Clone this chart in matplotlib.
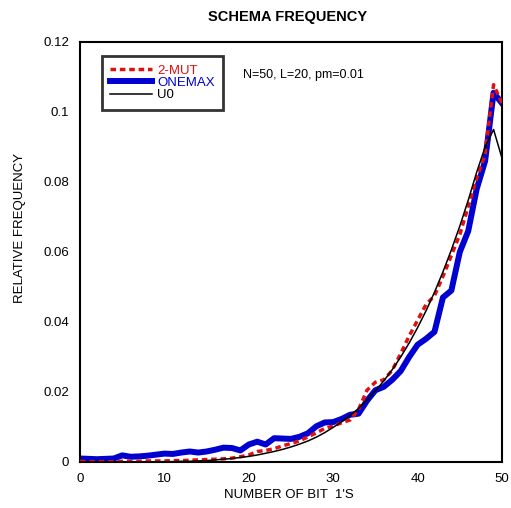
import matplotlib
matplotlib.use("Agg")
import matplotlib.pyplot as plt
import numpy as np

plt.rcParams['font.family'] = ['Liberation Sans', 'DejaVu Sans']

bits = list(range(51))
onemax = [0.0010, 0.0009, 0.0008, 0.0009, 0.0010, 0.0019, 0.0015, 0.0016, 0.0018, 0.0021,
          0.0024, 0.0023, 0.0027, 0.0030, 0.0027, 0.0030, 0.0035, 0.0041, 0.0040, 0.0033,
          0.0050, 0.0058, 0.0050, 0.0068, 0.0067, 0.0066, 0.0072, 0.0082, 0.0102, 0.0113,
          0.0114, 0.0123, 0.0135, 0.0138, 0.0175, 0.0205, 0.0215, 0.0235, 0.0260, 0.0300,
          0.0335, 0.0352, 0.0372, 0.0470, 0.0490, 0.0600, 0.0660, 0.0780, 0.0860, 0.1055,
          0.1025]
two_mut = [0.0002, 0.0001, 0.0001, 0.0001, 0.0001, 0.0002, 0.0002, 0.0002, 0.0003, 0.0003,
           0.0003, 0.0004, 0.0004, 0.0005, 0.0006, 0.0007, 0.0008, 0.0009, 0.0011, 0.0015,
           0.0020, 0.0030, 0.0033, 0.0038, 0.0046, 0.0053, 0.0060, 0.0072, 0.0083, 0.0096,
           0.0103, 0.0112, 0.0120, 0.0150, 0.0205, 0.0228, 0.0235, 0.0262, 0.0310, 0.0360,
           0.0405, 0.0450, 0.0475, 0.0530, 0.0590, 0.0650, 0.0730, 0.0810, 0.0880, 0.1078,
           0.1025]
u0 = [0.0000, 0.0000, 0.0000, 0.0000, 0.0000, 0.0000, 0.0000, 0.0000, 0.0000, 0.0001,
      0.0001, 0.0001, 0.0002, 0.0002, 0.0003, 0.0004, 0.0006, 0.0008, 0.0010, 0.0013,
      0.0016, 0.0020, 0.0025, 0.0030, 0.0036, 0.0043, 0.0051, 0.0060, 0.0071, 0.0084,
      0.0099, 0.0115, 0.0133, 0.0153, 0.0177, 0.0203, 0.0232, 0.0264, 0.0300, 0.0340,
      0.0384, 0.0432, 0.0485, 0.0543, 0.0606, 0.0674, 0.0748, 0.0828, 0.0900, 0.0950,
      0.0868]

xticks = [0, 10, 20, 30, 40, 50]
yticks = [0, 0.02, 0.04, 0.06, 0.08, 0.1, 0.12]
ytick_labels = ["0", "0.02", "0.04", "0.06", "0.08", "0.1", "0.12"]

W, H = 511, 508
fig = plt.figure(figsize=(W / 100, H / 100), dpi=100)
ax = fig.add_axes([80 / W, (H - 462) / H, 422 / W, 420 / H])

RED = '#e01010'
BLUE = '#0000d0'
l1, = ax.plot(bits, two_mut, color=RED, lw=2.5, ls=(0, (1.6, 1.1)), label='2-MUT', zorder=3)
l2, = ax.plot(bits, onemax, color=BLUE, lw=4.3, label='ONEMAX', zorder=2)
l3, = ax.plot(bits, u0, color='black', lw=1.1, label='U0', zorder=4)

ax.set_xlim(0, 50)
ax.set_ylim(0, 0.12)
ax.set_xticks(xticks)
ax.set_xticklabels([str(t) for t in xticks])
ax.set_yticks(yticks)
ax.set_yticklabels(ytick_labels)
ax.tick_params(length=0, labelsize=9.5, pad=8)
for s in ax.spines.values():
    s.set_linewidth(1.5)

fig.text(289 / W, 1 - 495 / H, "NUMBER OF BIT  1'S", ha='center', va='center', fontsize=9.5)
fig.text(20 / W, 1 - 228 / H, "RELATIVE FREQUENCY", ha='center', va='center', fontsize=9.5,
         rotation=90)
fig.text(288 / W, 1 - 17 / H, "SCHEMA FREQUENCY", ha='center', va='center', fontsize=10.5,
         fontweight='bold')

leg = ax.legend(handles=[l1, l2, l3], loc='upper left',
                bbox_to_anchor=((101.7 - 80) / 422, (462 - 56) / 420),
                fontsize=9.5, frameon=True, fancybox=False, handlelength=3.2,
                handletextpad=0.35, labelspacing=0.0, borderpad=0.65, borderaxespad=0)
leg.get_frame().set_edgecolor('black')
leg.get_frame().set_linewidth(2)
for t, c in zip(leg.get_texts(), [RED, BLUE, 'black']):
    t.set_color(c)

ax.text((243 - 80) / 422, (462 - 75) / 420, "N=50, L=20, pm=0.01", transform=ax.transAxes,
        fontsize=9, va='center')

fig.savefig("out.png", dpi=100)
